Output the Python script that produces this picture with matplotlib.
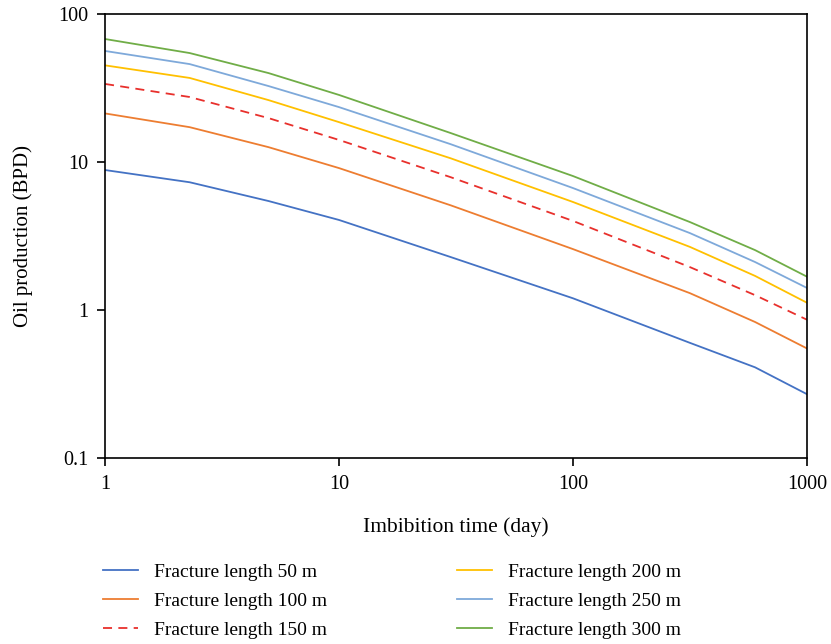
import matplotlib.pyplot as plt
from matplotlib.lines import Line2D

plt.rcParams['font.family'] = ['Liberation Serif', 'DejaVu Serif']

days = [1, 2.3, 5, 10, 30, 100, 316, 600, 1000]

q_50 = [8.83, 7.3, 5.45, 4.06, 2.28, 1.2, 0.60, 0.41, 0.27]
q_100 = [21.3, 17.2, 12.6, 9.1, 5.1, 2.58, 1.30, 0.83, 0.55]
q_150 = [33.7, 27.5, 19.8, 14.1, 7.9, 4.0, 1.95, 1.26, 0.86]
q_200 = [45.0, 37.0, 26.2, 18.6, 10.6, 5.37, 2.67, 1.70, 1.12]
q_250 = [56.3, 45.9, 32.6, 23.5, 13.2, 6.67, 3.31, 2.11, 1.41]
q_300 = [67.8, 54.5, 39.9, 28.4, 15.7, 8.04, 3.93, 2.54, 1.68]

labels = ["Fracture length 50 m", "Fracture length 100 m", "Fracture length 150 m",
          "Fracture length 200 m", "Fracture length 250 m", "Fracture length 300 m"]
colors = ["#4472C4", "#ED7D31", "#E8302C", "#FFC000", "#7EA9DA", "#70AD47"]
styles = ["-", "-", (0, (5, 3.5)), "-", "-", "-"]
series = [q_50, q_100, q_150, q_200, q_250, q_300]

fig = plt.figure(figsize=(8.31, 6.44), dpi=100)
ax = fig.add_axes([0.1264, 0.2888, 0.8447, 0.6894])

for q, c, ls, lab in zip(series, colors, styles, labels):
    ax.loglog(days, q, color=c, linestyle=ls, linewidth=1.3, label=lab)

ax.set_xlim(1, 1000)
ax.set_ylim(0.1, 100)
ax.set_xticks([1, 10, 100, 1000])
ax.set_xticklabels(["1", "10", "100", "1000"])
ax.set_yticks([0.1, 1, 10, 100])
ax.set_yticklabels(["0.1", "1", "10", "100"])
ax.minorticks_off()
ax.tick_params(which='major', direction='out', length=6, width=1.2, labelsize=14.5, pad=6)
for s in ax.spines.values():
    s.set_linewidth(1.2)

ax.set_xlabel("Imbibition time (day)", fontsize=15.5, labelpad=17)
ax.set_ylabel("Oil production (BPD)", fontsize=15, labelpad=18)

# legend laid out column-wise like the reference
handles = [Line2D([], [], color=c, linestyle=ls, linewidth=1.3) for c, ls in zip(colors, styles)]
fig.legend(handles, labels, loc='upper left', bbox_to_anchor=(0.1146, 0.137),
           ncol=2, frameon=False, fontsize=14, handlelength=1.8, handletextpad=0.8,
           columnspacing=6.7, labelspacing=0.58, borderaxespad=0)

fig.savefig("out.png", dpi=100)
